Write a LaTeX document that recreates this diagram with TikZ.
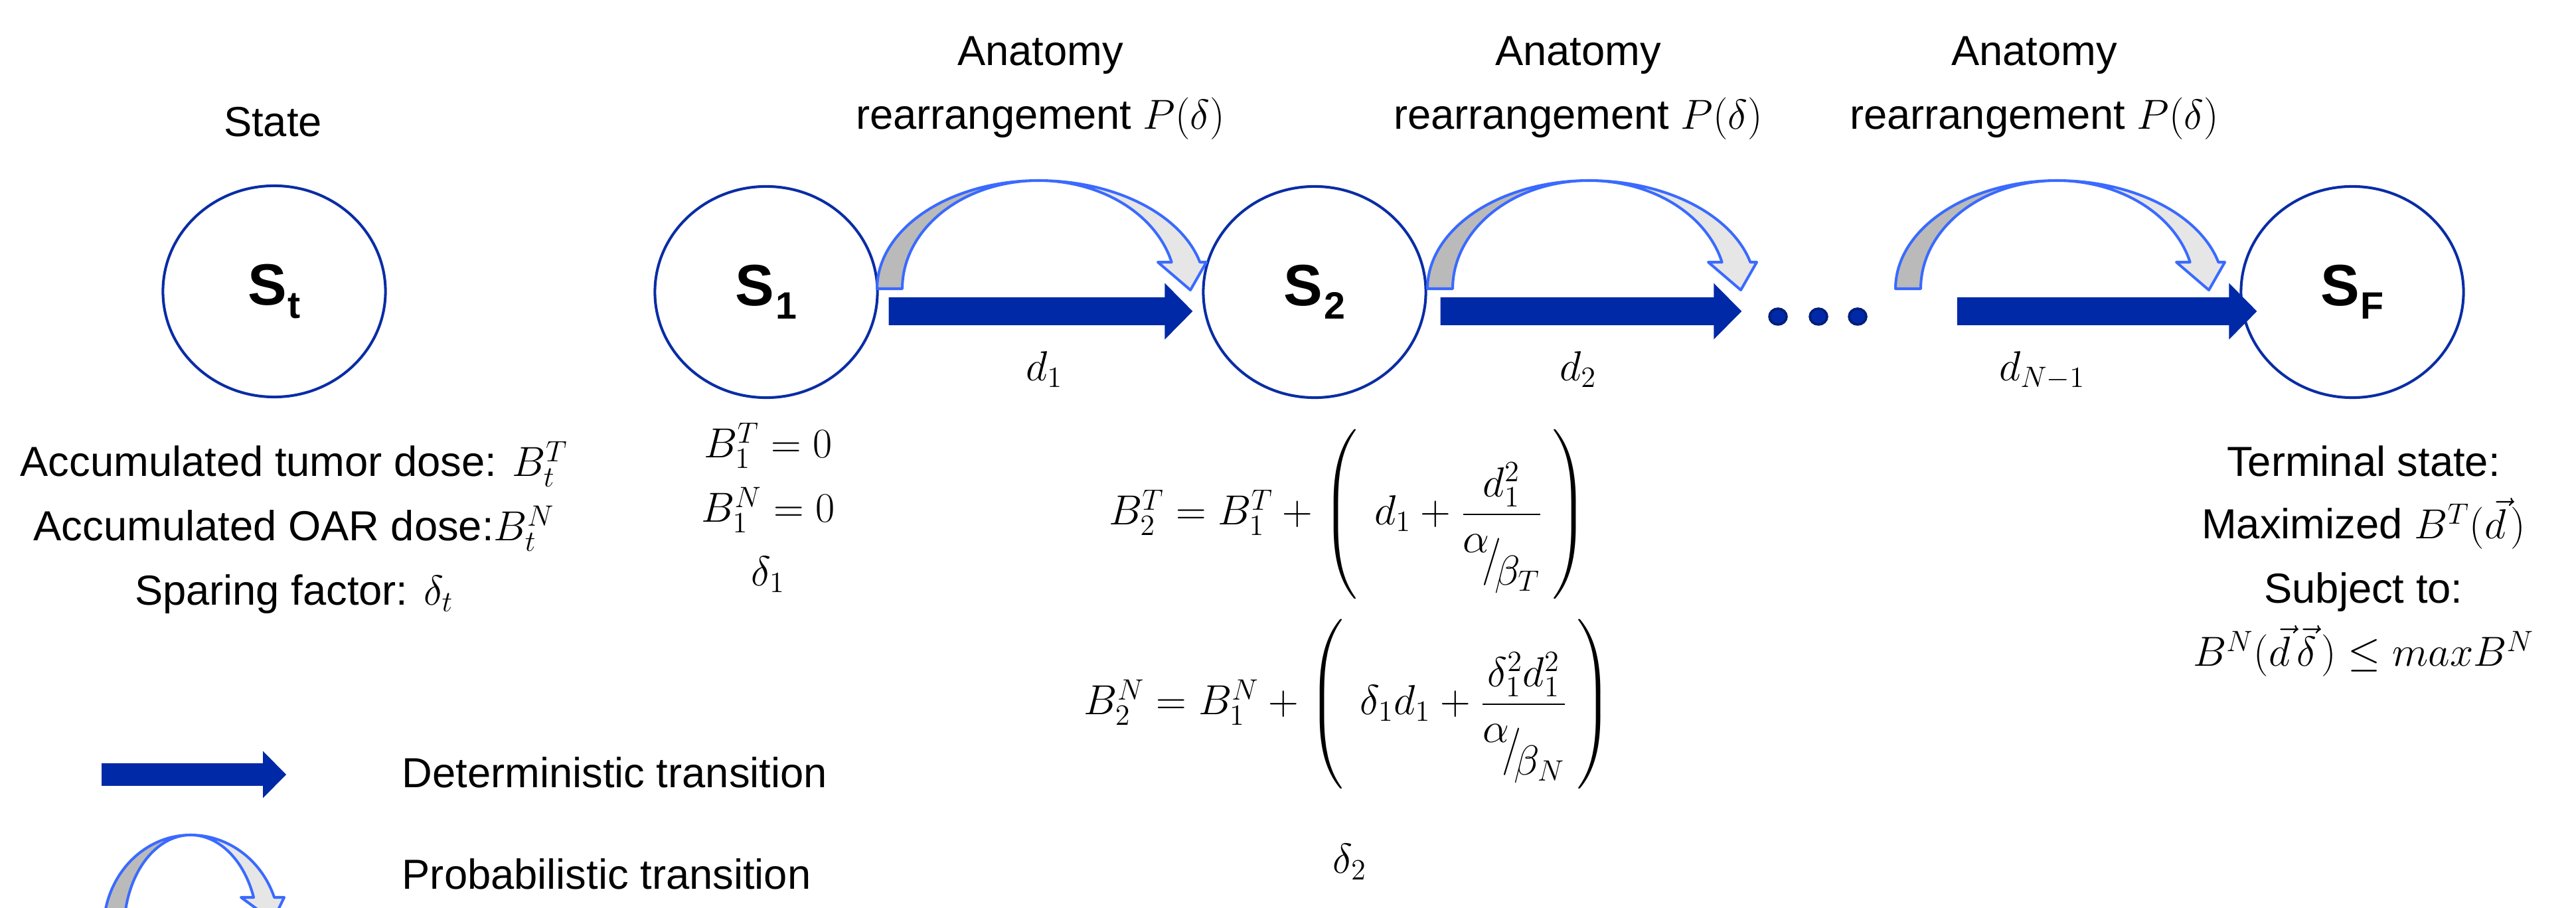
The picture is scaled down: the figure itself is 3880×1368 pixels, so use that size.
\RequirePackage{fix-cm}
\documentclass[tikz,border=0pt]{standalone}
\usepackage{amsmath}
\usepackage{fontspec}
\setmainfont{Liberation Sans}
\usetikzlibrary{calc,shapes.geometric}
\definecolor{circblue}{RGB}{10,45,165}
\definecolor{detblue}{RGB}{0,41,167}
\definecolor{dotedge}{RGB}{0,30,120}
\definecolor{probline}{RGB}{58,106,255}
\definecolor{probdark}{RGB}{186,186,186}
\definecolor{problight}{RGB}{230,230,230}
\newcommand\slabel[1]{{\fontsize{25}{25}\selectfont\bfseries S}\kern0.02cm{\fontsize{16.3}{16}\selectfont\bfseries\raisebox{-0.2cm}{#1}}}
\newcommand\lpar[1]{\left(\vcenter{\hbox{\rule{0pt}{#1}}}\right.}
\newcommand\rpar[1]{\left.\vcenter{\hbox{\rule{0pt}{#1}}}\right)}
\newcommand\skewden[2]{\smash{\raisebox{0.02cm}{$#1$}}\!\smash{\raisebox{-0.30cm}{\scalebox{1}[1.13]{$/$}}}\!\smash{\raisebox{-0.47cm}{$#2$}}\rule[-0.62cm]{0pt}{0pt}}
% deterministic arrow: half thickness, half head width, head length, start, end
\newcommand\detarrow[5]{%
  \fill[detblue] ($(#4)+(0,-#1)$) -- ($(#5)+(-#3,-#1)$) -- ($(#5)+(-#3,-#2)$) -- (#5)
    -- ($(#5)+(-#3,#2)$) -- ($(#5)+(-#3,#1)$) -- ($(#4)+(0,#1)$) -- cycle;}
% probabilistic arrow: ry, outer-left, inner-left, outer-right, inner-right, end angle, head left, head right, tip
\newcommand\probarrow[9]{%
  \filldraw[darkpart] plot[domain=180:90,samples=50] ({#2*cos(\x)},{-#1*sin(\x)})
    -- plot[domain=90:180,samples=50] ({#3*cos(\x)},{-#1*sin(\x)}) -- cycle;
  \filldraw[lightpart] plot[domain=90:#6,samples=50] ({#4*cos(\x)},{-#1*sin(\x)})
    -- ({#8},{-#1*sin(#6)}) -- #9 -- ({#7},{-#1*sin(#6)})
    -- plot[domain=#6:90,samples=50] ({#5*cos(\x)},{-#1*sin(\x)}) -- cycle;}
\begin{document}
\begin{tikzpicture}[x=0.01cm,y=-0.01cm,
  txt/.style={font=\fontsize{18}{22}\selectfont, inner sep=0pt, anchor=base},
  statenode/.style={ellipse, draw=circblue, line width=1.15pt, minimum width=3.35cm,
    minimum height=3.18cm, inner sep=0pt},
  darkpart/.style={fill=probdark, draw=probline, line width=1.15pt, line join=round},
  lightpart/.style={fill=problight, draw=probline, line width=1.15pt, line join=round},
  dotnode/.style={ellipse, fill=detblue, draw=dotedge, line width=1pt,
    minimum width=0.26cm, minimum height=0.24cm, inner sep=0pt}]
\useasboundingbox (0,0) rectangle (3880,1368);
\clip (0,0) rectangle (3880,1368);

% states
\node[statenode] (St) at (413,439) {\slabel{t}};
\node[statenode] (S1) at (1154,440) {\slabel{1}};
\node[statenode] (S2) at (1980,440) {\slabel{2}};
\node[statenode] (SF) at (3543,440) {\slabel{F}};

% dots
\node[dotnode] (dot1) at (2678,477) {};
\node[dotnode] (dot2) at (2739,477) {};
\node[dotnode] (dot3) at (2798,477) {};

% deterministic transitions
\coordinate (a1s) at ($(S1.east)+(15,29)$);
\coordinate (a1e) at ($(S2.west)+(-14,29)$);
\coordinate (a2s) at ($(S2.east)+(20,29)$);
\coordinate (a2e) at ($(dot1.west)+(-40,-8)$);
\coordinate (a3s) at ($(dot3.east)+(135,-8)$);
\coordinate (a3e) at ($(SF.west)+(26,29)$);
\detarrow{21}{42.5}{42}{a1s}{a1e}
\detarrow{21}{42.5}{42}{a2s}{a2e}
\detarrow{21}{42.5}{42}{a3s}{a3e}

% probabilistic transitions
\coordinate (pa1) at (1564,435);
\coordinate (pa2) at (2393,435);
\coordinate (pa3) at (3098,435);
\begin{scope}[shift={(pa1)}]\probarrow{163}{243}{205}{251}{207}{14.2}{180}{253}{(229,2)}\end{scope}
\begin{scope}[shift={(pa2)}]\probarrow{163}{243}{205}{251}{207}{14.2}{180}{253}{(229,2)}\end{scope}
\begin{scope}[shift={(pa3)}]\probarrow{163}{243}{205}{251}{207}{14.2}{180}{253}{(229,2)}\end{scope}

% headings
\node[txt] (state) at (411,206) {State};
\node[txt] (h1a) at (1567,99) {Anatomy};
\node[txt] (h1b) at (1567,195) {rearrangement $P(\delta)$};
\node[txt] (h2a) at (2377,99) {Anatomy};
\node[txt] (h2b) at (2377,195) {rearrangement $P(\delta)$};
\node[txt] (h3a) at (3064,99) {Anatomy};
\node[txt] (h3b) at (3064,195) {rearrangement $P(\delta)$};

% dose labels
\node[txt] (d1) at (1573,574) {$d_1$};
\node[txt] (d2) at (2377,574) {$d_2$};
\node[txt] (dN) at (3076,574) {$d_{N-1}$};

% state description
\node[txt] (l1) at (443,718) {Accumulated tumor dose: $B_t^T$};
\node[txt] (l2) at (443,815) {Accumulated OAR dose:$B_t^N$};
\node[txt] (l3) at (443,912) {Sparing factor: $\delta_t$};

% S1 values
\node[txt] (b1t) at (1157,690) {$B_1^T = 0$};
\node[txt] (b1n) at (1157,787) {$B_1^N = 0$};
\node[txt] (del1) at (1157,883) {$\delta_1$};

% update formulas
\node[txt] (f1) at (2031,791) {$B_2^T = B_1^T + \lpar{2.45cm}\, d_1 + \dfrac{d_1^2}{\skewden{\alpha}{\beta_T}}\rpar{2.45cm}$};
\node[txt] (f2) at (2031,1077) {$B_2^N = B_1^N + \lpar{2.45cm}\, \delta_1 d_1 + \dfrac{\delta_1^2 d_1^2}{\skewden{\alpha}{\beta_N}}\rpar{2.45cm}$};
\node[txt] (del2) at (2033,1316) {$\delta_2$};

% terminal state
\node[txt] (t1) at (3560,718) {Terminal state:};
\node[txt] (t2) at (3560,812) {Maximized $B^T(\vec{d}\mkern2mu)$};
\node[txt] (t3) at (3560,909) {Subject to:};
\node[txt] (t4) at (3560,1004) {$B^N(\vec{d}\,\vec{\delta}\mkern2mu) \le maxB^N$};

% legend
\coordinate (ls) at (153,1167);
\coordinate (le) at (431,1167);
\detarrow{17}{35.5}{35}{ls}{le}
\node[txt, anchor=base west] (leg1) at (605,1187) {Deterministic transition};
\coordinate (lp) at (287,1400);
\begin{scope}[shift={(lp)}]\probarrow{142}{131}{100}{134}{101}{19.76}{76}{141}{(124,-13)}\end{scope}
\node[txt, anchor=base west] (leg2) at (605,1340) {Probabilistic transition};
\end{tikzpicture}
\end{document}
